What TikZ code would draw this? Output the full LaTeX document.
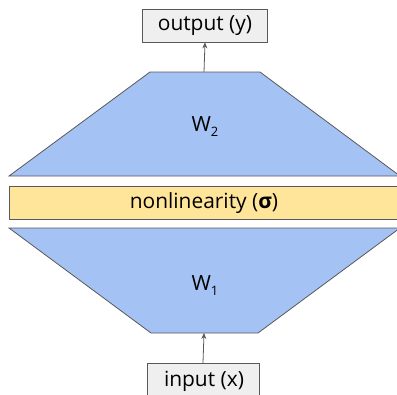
\documentclass[tikz,border=0pt]{standalone}
\usepackage{fontspec}
\setmainfont{Open Sans}
\usetikzlibrary{arrows.meta}
\definecolor{wblue}{HTML}{A4C2F4}
\definecolor{nyellow}{HTML}{FFE599}
\definecolor{boxgray}{HTML}{EFEFEF}
\definecolor{edge}{HTML}{595959}
\begin{document}
\begin{tikzpicture}[x=1bp,y=-1bp,
  iobox/.style={draw=edge, fill=boxgray, line width=0.8bp, inner sep=0pt, font=\fontsize{21}{24}\selectfont},
  layer/.style={draw=edge, fill=wblue, line width=0.8bp},
  conn/.style={draw=edge, line width=0.8bp, -{Stealth[length=6bp,width=5bp]}},
  lbl/.style={font=\fontsize{21}{24}\selectfont, inner sep=0pt}]
\useasboundingbox (0,0) rectangle (397,395);
\clip (0,0) rectangle (397,395);
% W2 trapezoid
\draw[layer] (9,176) -- (150,72) -- (260,72) -- (400,176) -- cycle;
\coordinate (w2top) at (204,72);
\node[lbl] (w2) at (205,127) {W\raisebox{-0.45ex}{\fontsize{13}{15}\selectfont 2}};
% nonlinearity
\node[draw=edge, fill=nyellow, line width=0.8bp, minimum width=392bp, minimum height=33bp, inner sep=0pt, anchor=west] (nl) at (9,202.5) {};
\node[lbl] (nltext) at (204,203) {nonlinearity (\textbf{σ})};
% W1 trapezoid
\draw[layer] (9,228) -- (400,228) -- (258,333) -- (151,333) -- cycle;
\coordinate (w1bot) at (204,333);
\node[lbl] (w1) at (205,286) {W\raisebox{-0.45ex}{\fontsize{13}{15}\selectfont 1}};
% output box
\node[iobox, minimum width=125bp, minimum height=33bp] (out) at (205,25.5) {output (y)};
% input box
\node[iobox, minimum width=112bp, minimum height=40bp, anchor=north] (in) at (203,363) {};
\node[lbl] (intext) at (204,381) {input (x)};
\draw[conn] (w2top) -- (out.south);
\draw[conn] (in.north) -- (w1bot);
\end{tikzpicture}
\end{document}
